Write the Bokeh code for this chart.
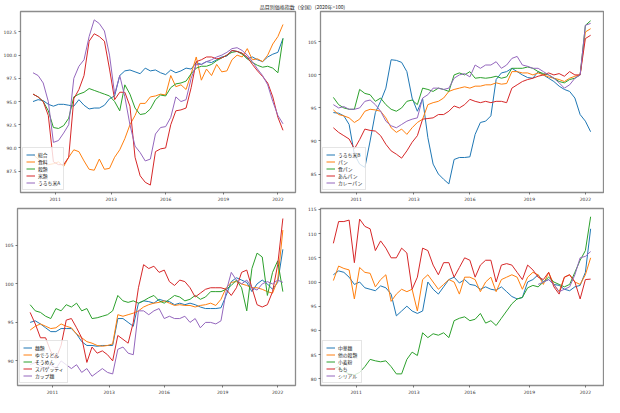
import numpy as np
import pandas as pd
from bokeh.plotting import figure
from bokeh.layouts import column, row
from bokeh.models import Range1d, FixedTicker, Legend, LegendItem, Label, NumeralTickFormatter
from bokeh.embed import file_html
from bokeh.resources import INLINE

TITLE = "品目別価格指数（全国）(2020年=100)"

# quarterly observation dates (Jan 2010 .. Apr 2022)
dates = pd.date_range("2010-01-01", "2022-04-01", freq="3MS")
month_idx = ((dates.year - 2010) * 12 + dates.month - 1).to_numpy()

tick_months = [13, 46, 78, 112, 144]
tick_labels = ["2011", "2013", "2016", "2019", "2022"]

# ---- panel 1 ----
names1 = ["総合", "食料", "穀類", "米類", "うるち米A"]
sogo = [95.0, 95.2, 95.1, 94.7, 94.5, 94.7, 94.7, 94.6, 94.5, 95.2, 94.6, 94.2, 94.3, 94.3, 94.6, 95.3, 95.6, 97.8, 98.3, 98.4, 98.2, 98.0, 98.6, 98.3, 98.4, 98.1, 97.9, 98.4, 98.1, 98.3, 98.6, 98.5, 99.2, 99.0, 99.3, 99.2, 99.5, 99.8, 99.9, 100.5, 100.4, 100.2, 99.6, 99.8, 99.5, 99.3, 99.8, 100.1, 100.3, 101.8]
shokuryo = [89.3, 88.8, 88.5, 88.2, 88.3, 88.5, 88.0, 89.0, 89.8, 89.6, 88.6, 87.7, 87.6, 88.8, 87.7, 87.8, 89.0, 89.8, 91.0, 92.5, 93.5, 94.8, 94.8, 95.5, 95.6, 95.8, 95.7, 97.8, 96.6, 96.8, 96.3, 98.0, 99.8, 97.3, 98.5, 97.8, 99.0, 98.2, 98.3, 99.5, 100.0, 99.8, 100.7, 99.5, 99.6, 99.3, 100.0, 101.2, 102.0, 103.3]
kokurui = [95.8, 95.5, 95.0, 94.0, 92.2, 92.1, 92.4, 93.2, 95.5, 95.8, 96.0, 96.4, 96.2, 96.0, 95.8, 95.6, 95.0, 94.0, 96.8, 95.8, 94.3, 93.6, 93.7, 94.2, 95.2, 95.7, 95.6, 96.5, 96.9, 97.0, 97.2, 98.0, 98.6, 98.8, 98.8, 99.0, 99.4, 99.7, 100.0, 100.3, 100.4, 100.1, 99.6, 99.2, 98.9, 98.7, 98.8, 98.6, 98.1, 101.8]
beirui = [95.8, 95.5, 95.0, 93.5, 88.5, 88.2, 88.2, 89.0, 95.3, 96.3, 97.8, 101.5, 102.3, 102.0, 101.5, 98.5, 95.2, 96.0, 96.0, 94.5, 89.0, 87.0, 86.3, 86.0, 89.6, 89.9, 90.0, 92.5, 94.0, 94.1, 94.3, 96.5, 99.3, 99.5, 99.8, 99.8, 99.6, 99.7, 100.0, 100.5, 100.4, 100.2, 99.8, 99.0, 98.3, 97.7, 97.0, 95.5, 93.3, 91.9]
uruchi_a = [98.1, 97.8, 97.0, 95.0, 90.6, 90.8, 91.6, 92.5, 97.5, 98.8, 99.5, 102.0, 103.8, 103.4, 102.6, 100.0, 95.8, 97.8, 95.5, 92.5, 90.2, 89.5, 88.6, 88.8, 91.5, 92.2, 92.3, 93.3, 95.5, 95.0, 95.2, 97.5, 99.0, 99.0, 99.3, 99.5, 99.8, 100.0, 100.3, 100.7, 100.8, 100.5, 100.0, 99.3, 98.5, 97.8, 96.8, 95.0, 93.5, 92.6]

# ---- panel 2 ----
names2 = ["うるち米B", "パン", "食パン", "あんパン", "カレーパン"]
uruchi_b = [94.3, 94.2, 93.8, 92.5, 88.0, 86.5, 86.0, 90.0, 94.3, 96.0, 98.0, 102.3, 102.2, 101.9, 100.5, 96.5, 94.5, 96.4, 90.5, 86.5, 85.0, 84.2, 83.5, 87.2, 87.5, 87.5, 87.6, 91.0, 92.8, 93.0, 93.8, 99.3, 100.3, 100.5, 101.0, 100.5, 100.0, 99.6, 99.5, 100.5, 100.0, 99.5, 99.0, 98.3, 97.8, 97.5, 96.5, 94.0, 93.0, 91.4]
pan = [94.7, 94.0, 93.8, 93.5, 92.8, 93.3, 94.5, 94.8, 94.7, 94.5, 93.5, 92.0, 91.3, 91.8, 91.0, 92.0, 92.8, 93.3, 95.5, 95.8, 96.0, 96.5, 97.5, 97.8, 98.0, 98.2, 98.0, 98.3, 98.3, 98.5, 98.5, 98.8, 98.6, 98.7, 100.5, 100.5, 100.3, 100.3, 100.0, 100.3, 100.0, 99.7, 99.5, 99.3, 99.0, 99.5, 99.8, 100.0, 106.5, 107.0]
shokupan = [96.6, 95.5, 95.0, 94.8, 94.8, 97.8, 97.2, 97.0, 96.0, 96.5, 95.5, 94.8, 94.5, 95.0, 96.0, 96.2, 95.5, 98.0, 97.8, 97.5, 98.0, 97.8, 97.5, 100.0, 100.3, 100.0, 100.5, 99.5, 99.6, 99.5, 99.6, 99.8, 99.5, 99.7, 101.0, 101.0, 101.0, 101.2, 101.0, 100.5, 100.2, 100.0, 99.5, 99.0, 98.8, 99.3, 99.5, 100.0, 107.5, 108.2]
anpan = [92.0, 91.3, 90.8, 90.3, 88.8, 90.2, 91.8, 91.6, 91.5, 90.8, 89.5, 88.5, 88.0, 87.4, 88.5, 89.8, 90.8, 93.3, 93.4, 93.5, 94.0, 94.0, 94.5, 95.3, 95.0, 95.5, 96.3, 96.0, 95.8, 96.0, 95.8, 96.0, 96.0, 95.8, 98.0, 98.5, 99.0, 99.3, 99.5, 99.8, 100.0, 100.3, 100.0, 100.2, 99.8, 100.5, 100.0, 100.0, 105.5, 106.0]
currypan = [95.5, 95.0, 95.2, 94.8, 94.8, 95.0, 96.0, 96.2, 95.5, 94.5, 93.0, 92.3, 92.0, 92.5, 93.0, 93.3, 93.5, 96.5, 97.0, 98.0, 98.0, 97.8, 98.0, 99.5, 100.0, 100.2, 99.7, 101.5, 101.0, 101.5, 101.5, 102.0, 101.0, 101.5, 102.5, 102.8, 101.5, 101.3, 101.0, 101.0, 100.5, 100.0, 99.5, 98.8, 98.0, 98.5, 99.5, 100.0, 107.5, 107.8]

# ---- panel 3 ----
names3 = ["麺類", "ゆでうどん", "そうめん", "スパゲッティ", "カップ麺"]
menrui = [95.0, 95.2, 94.8, 94.3, 93.8, 93.8, 94.2, 94.2, 94.2, 93.5, 92.5, 92.0, 92.0, 91.9, 92.0, 92.0, 92.0, 95.5, 95.5, 95.0, 94.5, 97.5, 97.8, 97.7, 97.5, 98.0, 97.8, 97.7, 97.3, 97.5, 97.3, 97.5, 97.3, 97.0, 96.8, 96.8, 96.8, 96.9, 98.5, 100.3, 100.8, 100.5, 100.2, 99.0, 100.0, 100.5, 100.0, 99.3, 100.2, 104.5]
yudeudon = [94.0, 94.5, 94.8, 94.5, 94.2, 94.3, 94.8, 94.5, 94.3, 93.5, 93.0, 92.5, 92.3, 92.0, 91.9, 92.0, 92.2, 96.0, 95.8, 96.0, 96.2, 96.5, 97.0, 97.3, 97.5, 97.6, 97.8, 97.5, 97.2, 97.3, 97.2, 97.2, 97.0, 97.2, 97.3, 97.5, 97.2, 98.0, 99.5, 100.2, 100.3, 100.0, 99.8, 99.5, 99.5, 99.3, 99.0, 98.8, 100.5, 107.0]
somen = [97.3, 96.5, 96.3, 95.8, 95.5, 96.8, 96.5, 97.3, 97.0, 97.5, 96.5, 96.8, 95.5, 95.6, 95.8, 96.0, 96.5, 98.5, 97.8, 97.6, 97.8, 97.5, 97.8, 98.2, 98.5, 97.8, 97.5, 98.0, 98.5, 98.3, 97.8, 98.0, 98.5, 98.0, 98.3, 99.0, 99.0, 99.0, 99.3, 99.8, 100.5, 99.5, 96.5, 102.0, 104.0, 103.5, 98.5, 101.5, 103.0, 99.0]
spaghetti = [96.3, 94.8, 93.0, 93.0, 91.2, 90.3, 92.0, 95.3, 95.5, 94.3, 93.0, 89.8, 91.8, 91.0, 91.3, 90.8, 90.0, 93.3, 92.8, 92.3, 95.0, 99.5, 102.5, 102.0, 102.3, 101.5, 101.8, 100.3, 99.8, 100.5, 100.3, 99.5, 98.3, 98.8, 99.3, 99.5, 99.5, 99.5, 99.3, 98.5, 99.5, 101.5, 101.8, 99.5, 97.3, 97.0, 97.3, 99.0, 102.5, 108.5]
cupmen = [89.5, 89.8, 89.3, 89.0, 89.5, 89.0, 90.0, 89.5, 89.0, 89.5, 88.5, 89.0, 88.0, 88.5, 89.0, 88.5, 88.3, 91.5, 91.8, 91.0, 90.8, 96.5, 96.5, 96.0, 96.5, 96.8, 95.5, 95.8, 95.5, 95.5, 95.8, 95.0, 95.5, 94.3, 95.0, 95.0, 94.8, 95.2, 99.0, 101.5, 100.5, 100.0, 100.5, 99.5, 99.2, 100.0, 100.3, 100.0, 100.5, 100.2]

# ---- panel 4 ----
names4 = ["中華麺", "他の穀類", "小麦粉", "もち", "シリアル"]
chukamen = [101.5, 102.3, 102.0, 101.0, 99.5, 100.0, 98.8, 98.5, 98.2, 99.2, 98.8, 97.5, 93.0, 94.0, 95.0, 94.0, 93.5, 94.0, 100.0, 98.5, 97.5, 99.0, 100.5, 101.0, 99.8, 100.5, 99.5, 99.3, 98.5, 99.0, 98.5, 98.3, 99.0, 98.0, 97.0, 96.5, 96.8, 100.0, 100.5, 101.5, 100.0, 100.5, 99.5, 99.3, 98.5, 98.2, 99.0, 99.3, 102.0, 111.0]
hoka = [100.3, 103.3, 102.8, 102.5, 96.5, 103.0, 102.0, 101.8, 99.0, 100.5, 101.5, 96.0, 97.5, 98.5, 98.0, 98.5, 94.0, 100.5, 101.5, 100.0, 98.5, 99.5, 100.5, 100.0, 97.5, 101.0, 101.0, 100.5, 98.0, 100.0, 101.0, 98.0, 100.5, 101.0, 101.5, 101.0, 98.5, 101.0, 102.0, 101.5, 99.5, 102.0, 99.5, 98.0, 101.0, 101.5, 100.0, 99.5, 101.5, 105.0]
komugiko = [82.0, 82.5, 81.5, 81.0, 80.8, 81.3, 82.5, 84.0, 83.7, 83.5, 83.7, 82.5, 81.0, 81.0, 84.0, 85.5, 84.8, 89.5, 88.5, 89.3, 89.0, 89.5, 88.5, 92.0, 92.5, 92.8, 92.0, 92.3, 93.5, 91.5, 92.0, 91.0, 92.5, 94.0, 95.5, 96.5, 96.8, 98.8, 99.3, 99.0, 100.0, 101.0, 100.0, 99.5, 99.0, 99.5, 102.0, 104.5, 106.5, 113.5]
mochi = [108.0, 112.5, 112.5, 112.8, 104.0, 113.0, 111.5, 111.0, 106.5, 108.5, 107.0, 105.0, 105.0, 107.0, 106.0, 98.5, 101.0, 107.0, 106.5, 103.5, 101.5, 104.0, 104.0, 101.0, 103.0, 105.0, 104.5, 101.0, 103.5, 104.5, 104.5, 100.0, 103.5, 103.8, 103.5, 102.0, 100.5, 103.5, 102.5, 101.0, 100.5, 102.0, 99.0, 97.5, 101.0, 101.5, 100.0, 96.5, 100.5, 100.6]
cereal = [None] * 39 + [99.5, 100.0, 100.5, 99.5, 98.0, 98.5, 99.0, 101.5, 105.0, 105.3, 106.3]

COLORS = ["#1f77b4", "#ff7f0e", "#2ca02c", "#d62728", "#9467bd"]
TICK_FONT = "DejaVu Sans"
JP_FONT = "Noto Sans CJK JP"


def panel(names, series, yr, yticks, yfmt, w, h, bl, br, bt, bb):
    p = figure(width=w, height=h, x_range=Range1d(-7.35, 154.35), y_range=Range1d(*yr),
               output_backend="svg", toolbar_location=None,
               min_border_left=bl, min_border_right=br, min_border_top=bt, min_border_bottom=bb)
    p.xgrid.visible = False
    p.ygrid.visible = False
    p.outline_line_color = "#8c8c8c"
    p.outline_line_width = 1.3
    p.background_fill_color = "white"
    items = []
    for name, ys, c in zip(names, series, COLORS):
        r = p.line(month_idx, np.array(ys, dtype=float), line_color=c, line_width=1.0)
        items.append(LegendItem(label=name, renderers=[r]))
    leg = Legend(items=items, location="bottom_left")
    leg.label_text_font = JP_FONT
    leg.label_text_font_size = "4.8px"
    leg.label_text_color = "#222222"
    leg.glyph_width = 9
    leg.glyph_height = 5
    leg.label_height = 5
    leg.label_standoff = 3
    leg.spacing = 0
    leg.padding = 3
    leg.margin = 2
    leg.border_line_color = "#cccccc"
    leg.border_line_width = 0.8
    leg.background_fill_alpha = 0.8
    p.add_layout(leg)

    p.xaxis.ticker = FixedTicker(ticks=tick_months)
    p.xaxis.major_label_overrides = {m: lab for m, lab in zip(tick_months, tick_labels)}
    p.yaxis.ticker = FixedTicker(ticks=yticks)
    p.yaxis.formatter = NumeralTickFormatter(format=yfmt)
    for ax in (p.xaxis[0], p.yaxis[0]):
        ax.axis_line_color = None
        ax.major_tick_line_color = "#555555"
        ax.major_tick_line_width = 0.8
        ax.major_tick_in = 0
        ax.major_tick_out = 2
        ax.minor_tick_line_color = None
        ax.major_label_text_font = TICK_FONT
        ax.major_label_text_font_size = "4.5px"
        ax.major_label_text_color = "#333333"
        ax.major_label_standoff = 2
    return p


p1 = panel(names1, [sogo, shokuryo, kokurui, beirui, uruchi_a], (85.2, 104.7),
           [87.5, 90, 92.5, 95, 97.5, 100, 102.5], "0.0", 304, 194, 17, 9, 1, 12)
p2 = panel(names2, [uruchi_b, pan, shokupan, anpan, currypan], (82.2, 109.6),
           [85, 90, 95, 100, 105], "0", 300, 194, 13, 1, 1, 12)
p3 = panel(names3, [menrui, yudeudon, somen, spaghetti, cupmen], (86.8, 109.8),
           [90, 95, 100, 105], "0", 304, 193, 17, 9, 4, 12)
p4 = panel(names4, [chukamen, hoka, komugiko, mochi, cereal], (78.6, 115.2),
           [80, 85, 90, 95, 100, 105, 110, 115], "0", 300, 193, 13, 1, 4, 12)

tf = figure(width=604, height=10, x_range=Range1d(0, 1), y_range=Range1d(0, 1),
            output_backend="svg", toolbar_location=None, min_border=0,
            x_axis_location=None, y_axis_location=None)
tf.grid.visible = False
tf.outline_line_color = None
tf.add_layout(Label(x=0.5, y=0.6, text=TITLE, text_align="center", text_baseline="middle",
                    text_font=JP_FONT, text_font_size="5px", text_color="#222222"))

layout = column(tf, row(p1, p2), row(p3, p4))
open("out.html", "w").write(file_html(layout, INLINE))
